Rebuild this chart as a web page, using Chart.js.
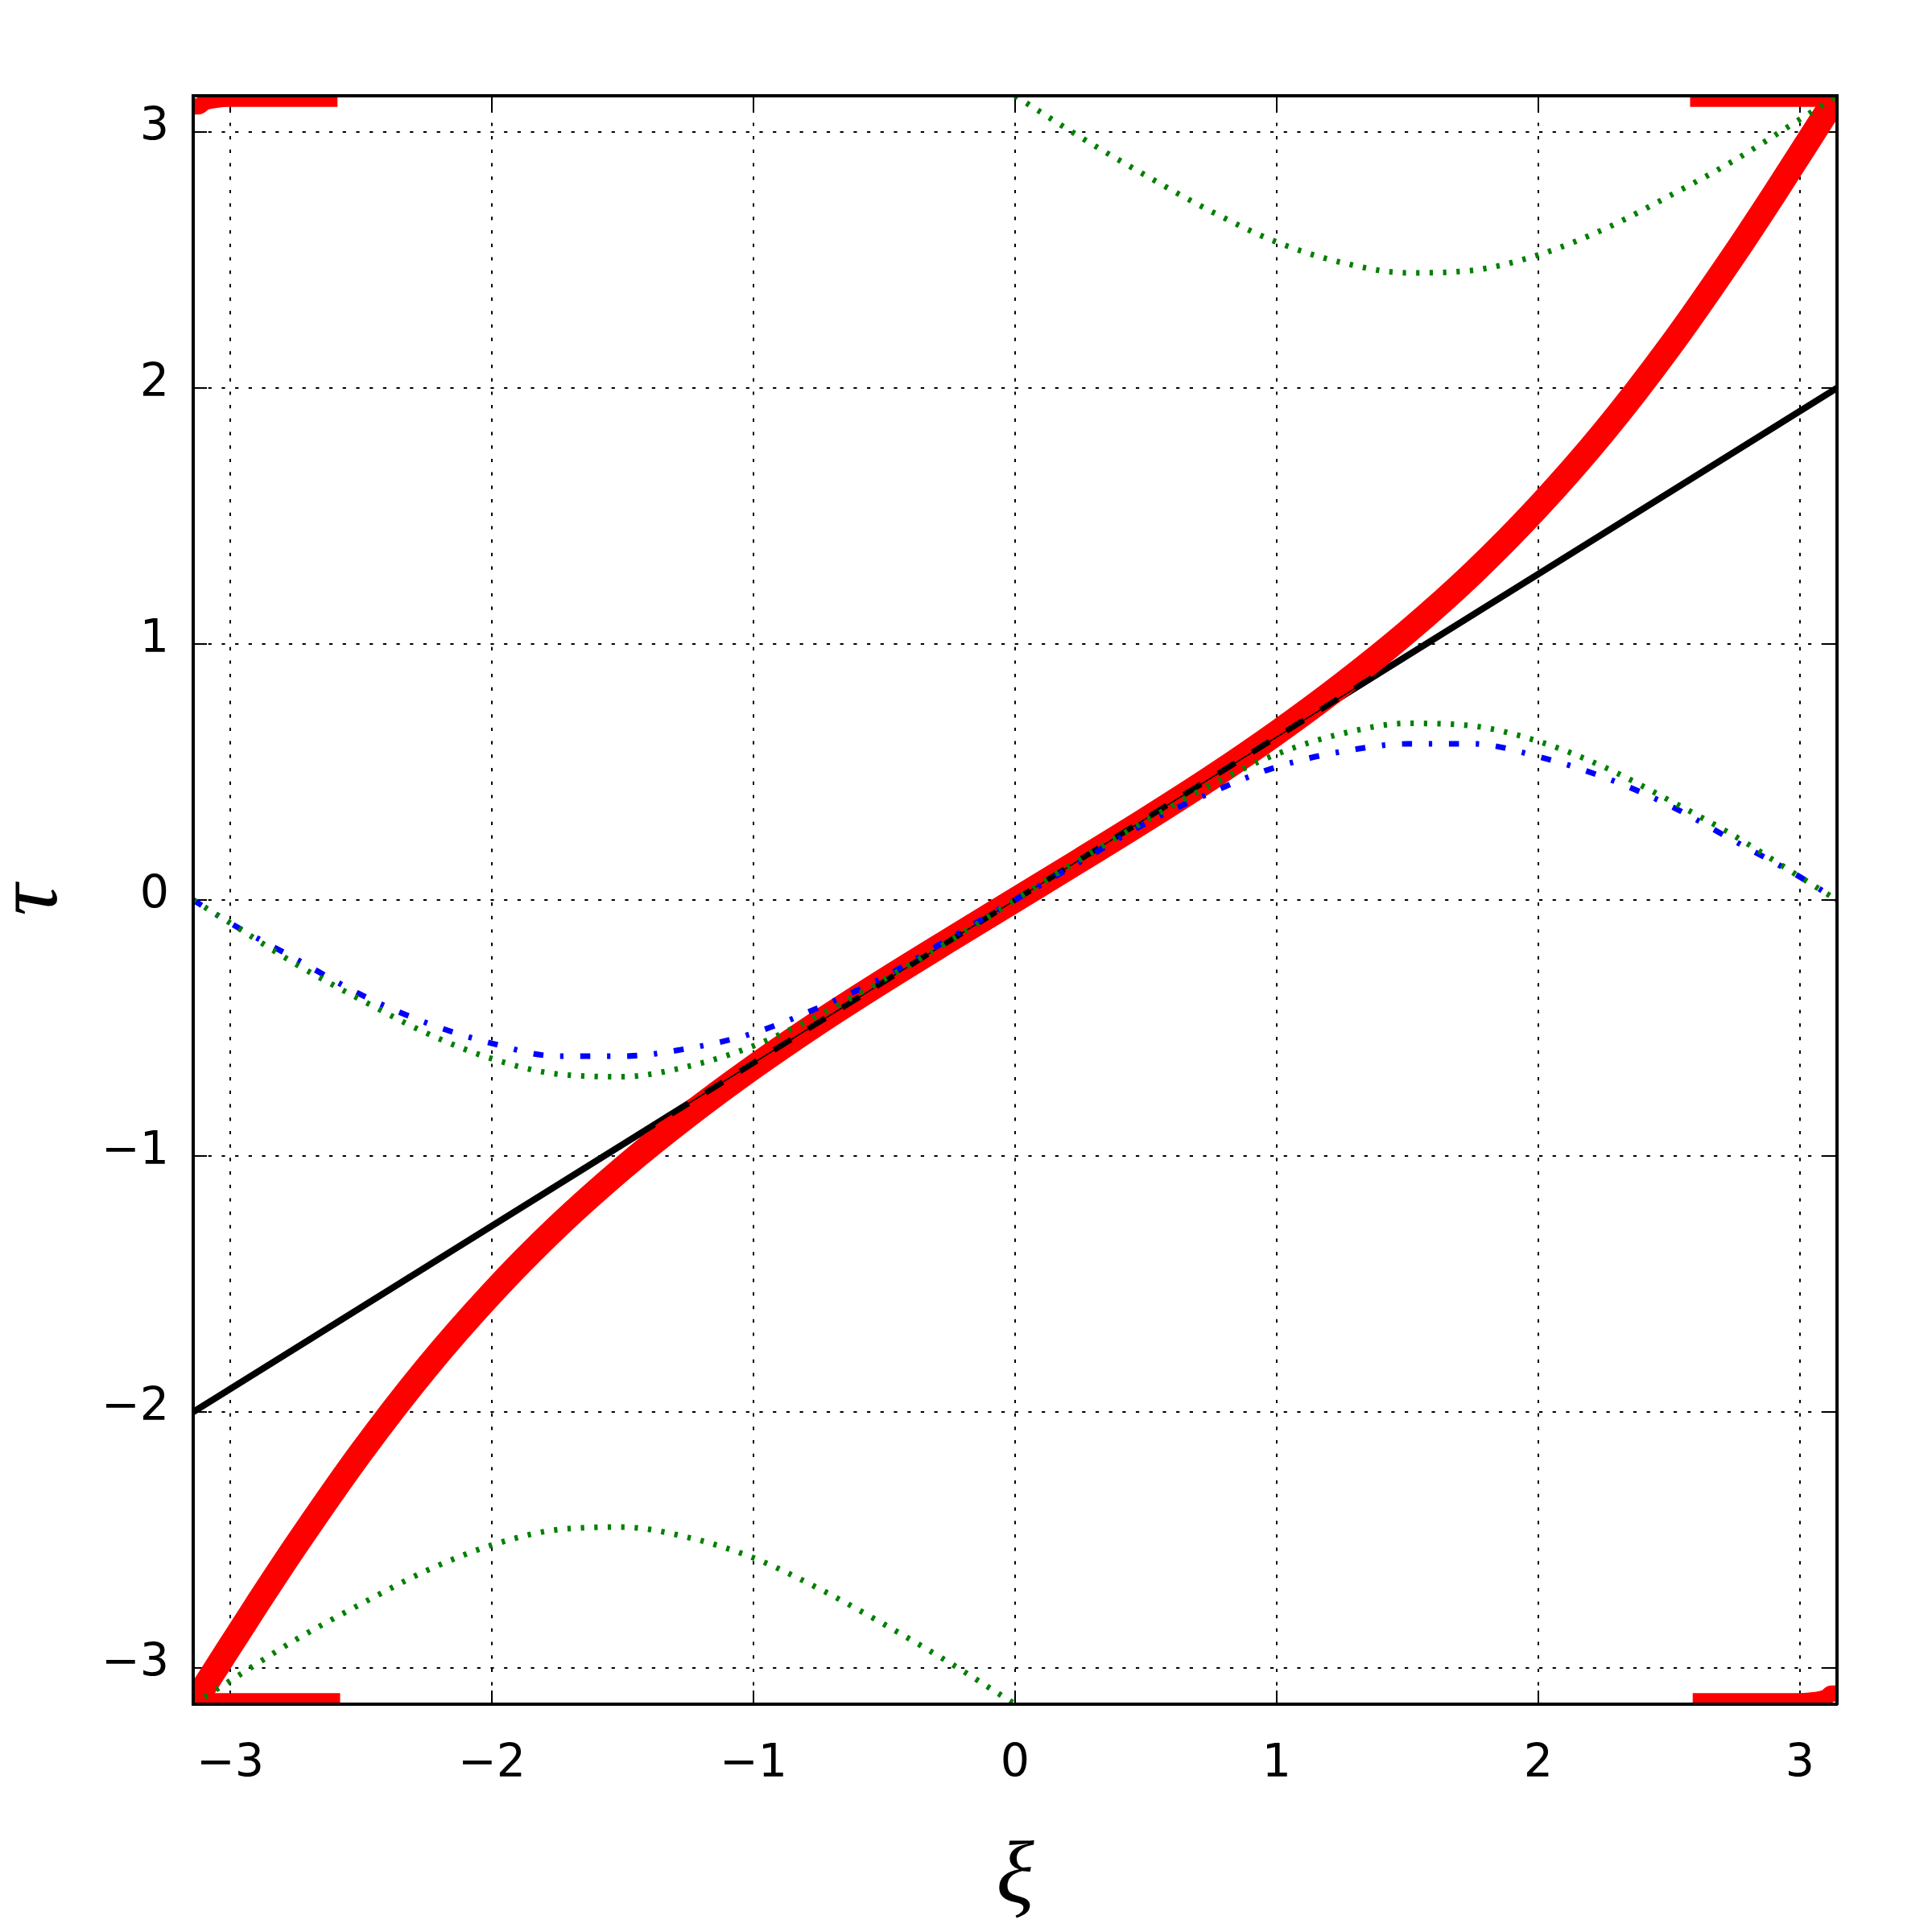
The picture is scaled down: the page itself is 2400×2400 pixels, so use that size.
<!DOCTYPE html>
<html>
<head>
<meta charset="utf-8">
<script src="https://cdn.jsdelivr.net/npm/chart.js@4"></script>
<style>
    body { margin: 0; background: #ffffff; }
    #wrap { width: 2400px; height: 2400px; position: relative; }
</style>
</head>
<body>
<div id="wrap"><canvas id="phaseChart"></canvas></div>
<script>
// Values.

const tickValues = [-3, -2, -1, 0, 1, 2, 3];

// Red square-marker curve
const xiRed = [-3.1416, -3.1, -3.05, -3.0, -2.9, -2.75, -2.5, -2.25, -2.0, -1.75, -1.5, -1.25, -1.0, -0.75, -0.5, -0.25,
    0, 0.25, 0.5, 0.75, 1.0, 1.25, 1.5, 1.75, 2.0, 2.25, 2.5, 2.75, 2.9, 3.0, 3.05, 3.1, 3.1416];
const tauRed = [-3.1416, -3.074, -2.994, -2.914, -2.755, -2.523, -2.158, -1.828, -1.536, -1.277, -1.048, -0.842, -0.653, -0.478, -0.314, -0.156,
    0, 0.156, 0.314, 0.478, 0.653, 0.842, 1.048, 1.277, 1.536, 1.828, 2.158, 2.523, 2.755, 2.914, 2.994, 3.074, 3.1416];

// Red marker runs along the top and bottom edges
const xiRedTopLeft = [-3.1416, -3.12, -3.1, -3.06, -3.0, -2.59];
const tauRedTopLeft = [3.10, 3.10, 3.115, 3.125, 3.13, 3.13];
const xiRedTopRight = [2.58, 3.1];
const tauRedTopRight = [3.13, 3.13];
const xiRedBottomLeft = [-3.1, -2.58];
const tauRedBottomLeft = [-3.13, -3.13];
const xiRedBottomRight = [2.59, 3.0, 3.06, 3.1, 3.12, 3.1416];
const tauRedBottomRight = [-3.13, -3.13, -3.125, -3.115, -3.10, -3.10];

// Black straight line
const xiBlack = [-3.1416, 3.1416];
const tauBlack = [-2, 2];

// Middle branch (green dotted, blue dash-dot)
const xiMid = [-3.1416, -3.0, -2.75, -2.5, -2.25, -2.0, -1.75, -1.5, -1.25, -1.0, -0.75, -0.5, -0.25,
    0, 0.25, 0.5, 0.75, 1.0, 1.25, 1.5, 1.75, 2.0, 2.25, 2.5, 2.75, 3.0, 3.1416];
const tauGreenMid = [0, -0.09, -0.25, -0.39, -0.52, -0.62, -0.68, -0.69, -0.65, -0.57, -0.45, -0.31, -0.16,
    0, 0.16, 0.31, 0.45, 0.57, 0.65, 0.69, 0.68, 0.62, 0.52, 0.39, 0.25, 0.09, 0];
const tauBlue = [0, -0.09, -0.23, -0.37, -0.48, -0.56, -0.61, -0.61, -0.58, -0.52, -0.42, -0.30, -0.15,
    0, 0.15, 0.30, 0.42, 0.52, 0.58, 0.61, 0.61, 0.56, 0.48, 0.37, 0.23, 0.09, 0];

// Outer green branches
const xiGreenUpper = [0, 0.25, 0.5, 0.75, 1.0, 1.25, 1.5, 1.75, 2.0, 2.25, 2.5, 2.75, 3.0, 3.1416];
const tauGreenUpper = [3.1416, 2.98, 2.83, 2.69, 2.57, 2.49, 2.45, 2.46, 2.52, 2.62, 2.75, 2.89, 3.05, 3.1416];
const xiGreenLower = [-3.1416, -3.0, -2.75, -2.5, -2.25, -2.0, -1.75, -1.5, -1.25, -1.0, -0.75, -0.5, -0.25, 0];
const tauGreenLower = [-3.1416, -3.05, -2.89, -2.75, -2.62, -2.52, -2.46, -2.45, -2.49, -2.57, -2.69, -2.83, -2.98, -3.1416];


function toPoints(xs, ys) {
    return xs.map((x, i) => ({ x: x, y: ys[i] }));
}

function tickLabel(value) {
    // matplotlib uses a real minus sign
    return value < 0 ? '\u2212' + Math.abs(value) : String(value);
}

function setTicks(scale) {
    scale.ticks = tickValues.map(v => ({ value: v }));
}


function lineSet(label, xs, ys, style) {
    return Object.assign({
        label: label,
        data: toPoints(xs, ys),
        pointRadius: 0,
        fill: false,
        clip: 0,
        cubicInterpolationMode: 'monotone',
        borderCapStyle: 'butt'
    }, style);
}


function renderChart() {
    const canvas = document.getElementById('phaseChart');
    const ctx = canvas.getContext('2d');

    const tickFont = { family: 'DejaVu Sans', size: 57 };
    const titleFont = { family: 'Liberation Serif', style: 'italic', size: 110, lineHeight: 1.2 };

    const datasets = [
        lineSet('green mid', xiMid, tauGreenMid, { borderColor: '#008000', borderWidth: 7, borderDash: [4.2, 12.5], order: 1 }),
        lineSet('green upper', xiGreenUpper, tauGreenUpper, { borderColor: '#008000', borderWidth: 7, borderDash: [4.2, 12.5], order: 1 }),
        lineSet('green lower', xiGreenLower, tauGreenLower, { borderColor: '#008000', borderWidth: 7, borderDash: [4.2, 12.5], order: 1 }),
        lineSet('blue', xiMid, tauBlue, { borderColor: '#0000ff', borderWidth: 7, borderDash: [12.5, 20.8, 4.2, 20.8], order: 2 }),
        lineSet('black thin', xiBlack, tauBlack, { borderColor: '#000000', borderWidth: 1.5, order: 3 }),
        lineSet('black dashed', xiBlack, tauBlack, { borderColor: '#000000', borderWidth: 7, borderDash: [25, 25], order: 4 }),
        lineSet('red', xiRed, tauRed, { borderColor: '#ff0000', borderWidth: 31, order: 5 }),
        lineSet('red top left', xiRedTopLeft, tauRedTopLeft, { borderColor: '#ff0000', borderWidth: 20, order: 5 }),
        lineSet('red top right', xiRedTopRight, tauRedTopRight, { borderColor: '#ff0000', borderWidth: 20, order: 5 }),
        lineSet('red bottom left', xiRedBottomLeft, tauRedBottomLeft, { borderColor: '#ff0000', borderWidth: 20, order: 5 }),
        lineSet('red bottom right', xiRedBottomRight, tauRedBottomRight, { borderColor: '#ff0000', borderWidth: 20, order: 5 }),
        lineSet('black', xiBlack, tauBlack, { borderColor: '#000000', borderWidth: 8, order: 7 })
    ];

    // Dotted grid, inward ticks, black frame on top of the data
    const gridOpts = { color: '#000000', lineWidth: 2, tickLength: -17, tickWidth: 2, tickColor: '#000000' };
    const borderOpts = { color: '#000000', width: 4, dash: [4.2, 12.5], z: 1 };

    new Chart(ctx, {
        type: 'line',
        data: { datasets: datasets },
        options: {
            responsive: true,
            maintainAspectRatio: false,
            devicePixelRatio: 1,
            animation: false,
            events: [],
            layout: { padding: { top: 119, right: 118, left: 0, bottom: 0 } },
            plugins: {
                legend: { display: false },
                tooltip: { enabled: false }
            },
            scales: {
                x: {
                    type: 'linear',
                    position: 'bottom',
                    min: -Math.PI,
                    max: Math.PI,
                    afterBuildTicks: setTicks,
                    afterFit: s => { s.height = 283; },
                    grid: gridOpts,
                    border: borderOpts,
                    ticks: { font: tickFont, color: '#000000', padding: 58, maxRotation: 0, callback: tickLabel },
                    title: { display: true, text: 'ξ', color: '#000000', font: titleFont, padding: { top: 0, bottom: 0 } }
                },
                y: {
                    type: 'linear',
                    position: 'left',
                    min: -Math.PI,
                    max: Math.PI,
                    afterBuildTicks: setTicks,
                    afterFit: s => { s.width = 240; },
                    grid: gridOpts,
                    border: borderOpts,
                    ticks: { font: tickFont, color: '#000000', padding: 47, labelOffset: -5, callback: tickLabel },
                    title: { display: true, text: 'τ', color: '#000000', font: Object.assign({}, titleFont, { lineHeight: 0.5 }), padding: { top: 14, bottom: 0 } }
                },
                xTop: {
                    type: 'linear',
                    position: 'top',
                    min: -Math.PI,
                    max: Math.PI,
                    afterBuildTicks: setTicks,
                    afterFit: s => { s.height = 0; },
                    grid: Object.assign({}, gridOpts, { drawOnChartArea: false }),
                    border: { color: '#000000', width: 4, z: 1 },
                    ticks: { display: false }
                },
                yRight: {
                    type: 'linear',
                    position: 'right',
                    min: -Math.PI,
                    max: Math.PI,
                    afterBuildTicks: setTicks,
                    afterFit: s => { s.width = 0; },
                    grid: Object.assign({}, gridOpts, { drawOnChartArea: false }),
                    border: { color: '#000000', width: 4, z: 1 },
                    ticks: { display: false }
                }
            }
        }
    });
}

renderChart();
</script>
</body>
</html>
